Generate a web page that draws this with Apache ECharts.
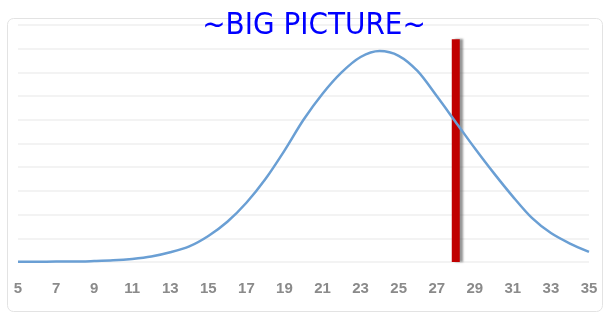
<!DOCTYPE html>
<html><head><meta charset="utf-8">
<script src="https://cdn.jsdelivr.net/npm/echarts@6/dist/echarts.min.js"></script>
<style>html,body{margin:0;padding:0;background:#fff}#c{width:605px;height:316px}</style>
</head><body><div id="c"></div>
<script>
const xValues = [5,6,7,8,9,10,11,12,13,14,15,16,17,18,19,20,21,22,23,24,25,26,27,28,29,30,31,32,33,34,35];
const yValues = [0.01,0.01,0.02,0.02,0.04,0.07,0.13,0.23,0.41,0.66,1.1,1.7,2.5,3.5,4.7,6.0,7.1,8.0,8.65,8.9,8.7,8.05,7.0,5.9,4.8,3.75,2.76,1.86,1.22,0.78,0.43];
const markerX = 28;
const markerTop = 9.4;
const tickLabels = [5,7,9,11,13,15,17,19,21,23,25,27,29,31,33,35];
const titleText = '~BIG PICTURE~';

const chart = echarts.init(document.getElementById('c'), null, {renderer:'canvas'});
chart.setOption({
  animation:false,
  graphic:[{type:'rect', z:-1, shape:{x:7.5,y:18.5,width:595,height:293,r:6}, style:{fill:'#fff',stroke:'#e3e3e3',lineWidth:1}}],
  title:{text:titleText, left:309, top:5, textAlign:'center',
    textStyle:{color:'#0000ff', fontSize:31, fontWeight:'normal', fontFamily:'DejaVu Sans Condensed'}},
  grid:{left:18, right:16, top:25, bottom:54, containLabel:false},
  xAxis:{type:'value', min:5, max:35, interval:2,
    axisLine:{show:false}, axisTick:{show:false}, splitLine:{show:false},
    axisLabel:{color:'#8a8a8a', fontSize:15, fontWeight:'bold', fontFamily:'Liberation Sans', margin:19,
      formatter:v=>tickLabels.includes(v)?String(v):''}},
  yAxis:{type:'value', min:0, max:10, interval:1, axisLabel:{show:false}, axisLine:{show:false}, axisTick:{show:false},
    splitLine:{lineStyle:{color:'#efefef', width:1.5}}},
  series:[
    {type:'line', data:xValues.map((x,i)=>[x,yValues[i]]), showSymbol:false, smooth:0.3,
      lineStyle:{color:'#6a9fd4', width:2.5}, z:3},
    {type:'line', data:[[markerX,0],[markerX,markerTop]], showSymbol:false,
      lineStyle:{color:'#c00000', width:8, cap:'butt', shadowColor:'rgba(80,80,80,0.6)', shadowOffsetX:3, shadowBlur:2}, z:2}
  ]
});
</script></body></html>
